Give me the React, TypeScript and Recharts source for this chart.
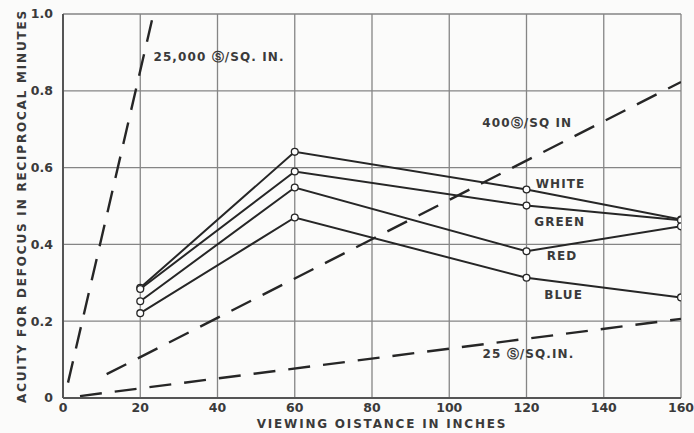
import React from "react";
import {
  LineChart,
  Line,
  XAxis,
  YAxis,
  CartesianGrid,
  ReferenceDot,
} from "recharts";

// Viewing distance (inches) at which acuity was measured
const distances = [20, 60, 120, 160];

// Acuity for defocus (reciprocal minutes) per colour of light
const white = [0.287, 0.641, 0.543, 0.465];
const green = [0.284, 0.59, 0.501, 0.463];
const red = [0.252, 0.548, 0.382, 0.447];
const blue = [0.221, 0.47, 0.313, 0.262];

// Theoretical luminance lines (dashed)
const lum25000X = [1.3, 23.4];
const lum25000Y = [0.04, 1.0];
const lum400X = [11.3, 160];
const lum400Y = [0.062, 0.823];
const lum25X = [4.4, 160];
const lum25Y = [0.005, 0.206];

const xTicks = [0, 20, 40, 60, 80, 100, 120, 140, 160];
const yTicks = [0, 0.2, 0.4, 0.6, 0.8, 1.0];

// Annotation text and where it sits in data space
const notes = [
  { text: "25,000 Ⓢ/SQ. IN.", x: 40.4, y: 0.888 },
  { text: "400Ⓢ/SQ IN", x: 120.2, y: 0.715 },
  { text: "WHITE", x: 128.8, y: 0.556 },
  { text: "GREEN", x: 128.6, y: 0.458 },
  { text: "RED", x: 129.2, y: 0.369 },
  { text: "BLUE", x: 129.6, y: 0.267 },
  { text: "25 Ⓢ/SQ.IN.", x: 120.5, y: 0.115 },
];

const rows = distances.map((d, i) => ({
  x: d,
  white: white[i],
  green: green[i],
  red: red[i],
  blue: blue[i],
}));

const pairs = (xs: number[], ys: number[]) =>
  xs.map((x, i) => ({ x, v: ys[i] }));

const FONT = "'DejaVu Sans', sans-serif";
const TEXT = "#3a3a3a";
const INK = "#262626";

const dot = { r: 3.4, fill: "#fdfdfd", stroke: INK, strokeWidth: 1.3 };

const NoteLabel = (props: any) => {
  const { viewBox, value } = props;
  const cx = viewBox.x + (viewBox.width || 0) / 2;
  const cy = viewBox.y + (viewBox.height || 0) / 2;
  return (
    <text
      x={cx}
      y={cy}
      textAnchor="middle"
      dominantBaseline="central"
      fontFamily={FONT}
      fontSize={12}
      fontWeight={600}
      letterSpacing={1.1}
      fill={TEXT}
    >
      {value}
    </text>
  );
};

const YTitle = (props: any) => {
  const { viewBox } = props;
  const cx = 22;
  const cy = viewBox.y + viewBox.height / 2;
  return (
    <text
      x={cx}
      y={cy}
      transform={`rotate(-90 ${cx} ${cy})`}
      textAnchor="middle"
      dominantBaseline="central"
      fontFamily={FONT}
      fontSize={12}
      fontWeight={600}
      letterSpacing={1.8}
      fill={TEXT}
    >
      ACUITY FOR DEFOCUS IN RECIPROCAL MINUTES
    </text>
  );
};

const XTitle = (props: any) => {
  const { viewBox } = props;
  const cx = viewBox.x + viewBox.width / 2 + 10;
  const cy = 424;
  return (
    <text
      x={cx}
      y={cy}
      textAnchor="middle"
      dominantBaseline="central"
      fontFamily={FONT}
      fontSize={12}
      fontWeight={600}
      letterSpacing={1.8}
      fill={TEXT}
    >
      VIEWING OISTANCE IN INCHES
    </text>
  );
};

const tickStyle = {
  fontFamily: FONT,
  fontSize: 12.5,
  fontWeight: 600,
  fill: TEXT,
};

export default function App() {
  return (
    <div
      style={{
        position: "absolute",
        left: 0,
        top: 0,
        width: 694,
        height: 433,
        background: "#fbfbfa",
      }}
    >
      <LineChart
        width={694}
        height={433}
        data={rows}
        margin={{ top: 14, right: 13, bottom: 0, left: 0 }}
      >
        <CartesianGrid
          stroke="#858585"
          strokeWidth={1.3}
          horizontalValues={yTicks}
          verticalValues={xTicks}
        />
        <XAxis
          dataKey="x"
          type="number"
          domain={[0, 160]}
          ticks={xTicks}
          allowDataOverflow
          height={35}
          tickLine={false}
          tickSize={0}
          tickMargin={5}
          axisLine={{ stroke: "#555", strokeWidth: 2 }}
          tick={tickStyle}
          label={<XTitle />}
        />
        <YAxis
          type="number"
          domain={[0, 1]}
          ticks={yTicks}
          allowDataOverflow
          width={63}
          tickLine={false}
          tickSize={0}
          tickMargin={10}
          axisLine={{ stroke: "#555", strokeWidth: 2 }}
          tick={tickStyle}
          tickFormatter={(v: number) => (v === 0 ? "0" : v.toFixed(1))}
          label={<YTitle />}
        />

        <Line
          data={pairs(lum25000X, lum25000Y)}
          dataKey="v"
          type="linear"
          stroke={INK}
          strokeWidth={2.4}
          strokeDasharray="22 13"
          dot={false}
          activeDot={false}
          isAnimationActive={false}
        />
        <Line
          data={pairs(lum400X, lum400Y)}
          dataKey="v"
          type="linear"
          stroke={INK}
          strokeWidth={2.4}
          strokeDasharray="22 13"
          dot={false}
          activeDot={false}
          isAnimationActive={false}
        />
        <Line
          data={pairs(lum25X, lum25Y)}
          dataKey="v"
          type="linear"
          stroke={INK}
          strokeWidth={2.4}
          strokeDasharray="22 13"
          dot={false}
          activeDot={false}
          isAnimationActive={false}
        />

        {["white", "green", "red", "blue"].map((k) => (
          <Line
            key={k}
            dataKey={k}
            type="linear"
            stroke={INK}
            strokeWidth={2}
            dot={dot}
            activeDot={false}
            isAnimationActive={false}
          />
        ))}

        {notes.map((n) => (
          <ReferenceDot
            key={n.text}
            x={n.x}
            y={n.y}
            r={0}
            fill="none"
            stroke="none"
            label={<NoteLabel value={n.text} />}
          />
        ))}
      </LineChart>
    </div>
  );
}
